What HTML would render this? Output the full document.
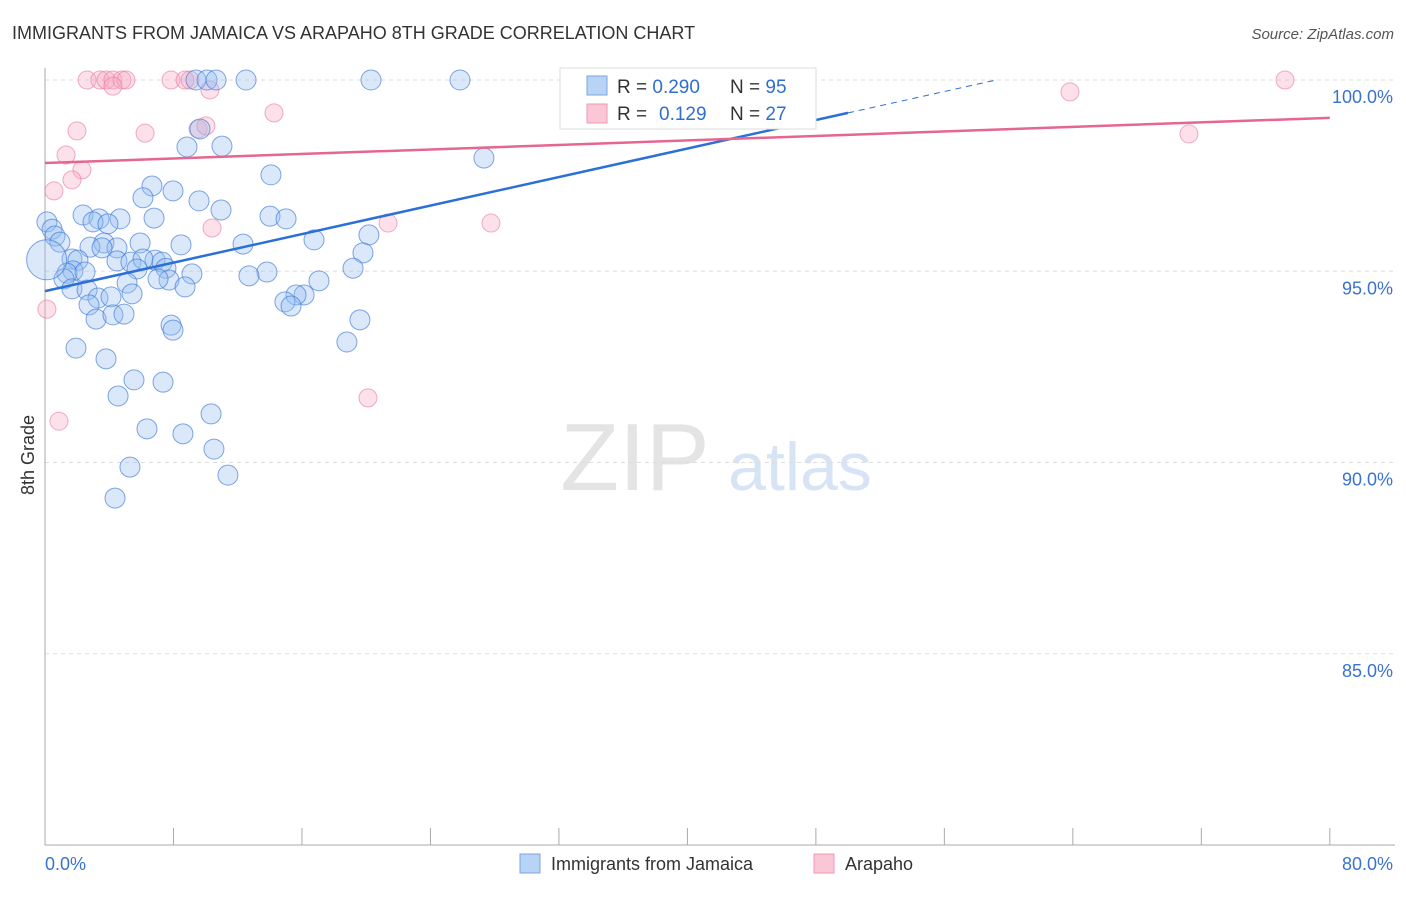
<!DOCTYPE html>
<html><head><meta charset="utf-8"><style>
body{margin:0;background:#fff;font-family:"Liberation Sans",sans-serif}
svg text{font-family:"Liberation Sans",sans-serif}
</style></head><body>
<svg id="c" width="1406" height="892">
<text x="12" y="39" font-size="18" fill="#333">IMMIGRANTS FROM JAMAICA VS ARAPAHO 8TH GRADE CORRELATION CHART</text>
<text x="1394" y="39" font-size="15" fill="#555" font-style="italic" text-anchor="end">Source: ZipAtlas.com</text>
<text x="635" y="490" font-size="96" fill="#e4e4e4" font-family="Liberation Serif,serif" text-anchor="middle">ZIP</text>
<text x="800" y="490" font-size="68" fill="#d6e4f5" text-anchor="middle">atlas</text>
<text transform="translate(34,455) rotate(-90)" font-size="18" fill="#333" text-anchor="middle">8th Grade</text>
<g id="grid"></g><g id="pts"></g><g id="lines"></g>
<g>
<rect x="560" y="68" width="256" height="61" fill="#fff" stroke="#ddd"/>
<rect x="587" y="76" width="20" height="19" fill="#b8d3f5" stroke="#7aa7e0"/>
<rect x="587" y="104" width="20" height="19" fill="#fbc6d6" stroke="#ef9ab5"/>
<text x="617" y="93" font-size="19" fill="#333">R = <tspan fill="#2f6fcf">0.290</tspan><tspan x="730">N = </tspan><tspan fill="#2f6fcf">95</tspan></text>
<text x="617" y="120" font-size="19" fill="#333">R = <tspan x="659" fill="#2f6fcf">0.129</tspan><tspan x="730">N = </tspan><tspan fill="#2f6fcf">27</tspan></text>
</g>
<g>
<rect x="520" y="854" width="20" height="19" fill="#b8d3f5" stroke="#7aa7e0"/>
<text x="551" y="870" font-size="18" fill="#333">Immigrants from Jamaica</text>
<rect x="814" y="854" width="20" height="19" fill="#fbc6d6" stroke="#ef9ab5"/>
<text x="845" y="870" font-size="18" fill="#333">Arapaho</text>
</g>
</svg>
<script>
const blueX=[9.40,10.09,10.65,12.52,20.30,25.84,42.65,9.65,8.84,11.02,14.07,27.33,6.66,7.97,6.10,9.59,10.96,2.37,3.36,4.67,2.99,3.92,6.79,14.01,15.01,0.12,0.44,0.62,0.93,20.17,16.75,12.33,8.47,5.92,3.67,2.80,4.48,19.80,3.55,1.68,2.05,4.48,5.35,6.85,6.10,7.29,7.53,5.73,1.74,1.37,2.49,19.18,13.82,12.70,9.15,7.72,7.04,1.18,1.68,2.62,5.11,8.72,17.06,3.30,4.11,5.42,2.74,16.13,15.63,14.94,15.32,3.18,4.23,4.92,7.85,7.97,19.61,18.80,1.93,3.80,5.54,7.35,4.55,10.34,6.35,8.59,10.52,5.29,11.39,4.36,0.1];
const blueY=[100,100,100,100,100,100,100,98.72,98.25,98.27,97.52,97.96,97.23,97.10,96.92,96.84,96.60,96.47,96.37,96.37,96.29,96.24,96.39,96.44,96.37,96.29,96.10,95.92,95.76,95.95,95.82,95.71,95.69,95.74,95.74,95.63,95.61,95.48,95.61,95.32,95.29,95.27,95.24,95.29,95.32,95.24,95.08,95.06,95.01,94.95,94.98,95.08,94.98,94.88,94.93,94.77,94.80,94.80,94.54,94.51,94.69,94.59,94.75,94.30,94.33,94.41,94.12,94.38,94.38,94.20,94.09,93.75,93.86,93.88,93.59,93.46,93.73,93.15,92.99,92.71,92.16,92.10,91.74,91.27,90.88,90.75,90.35,89.88,89.67,89.07,95.3];
const pinkX=[2.62,3.42,3.80,4.23,4.79,5.04,7.85,8.72,9.03,4.23,10.27,77.21,63.82,14.26,1.99,6.23,9.53,10.02,1.31,2.30,1.68,0.56,10.40,21.36,27.77,71.23,0.12,20.11,0.87];
const pinkY=[100,100,100,100,100,100,100,100,100,99.84,99.74,100,99.69,99.14,98.67,98.61,98.72,98.80,98.04,97.65,97.39,97.10,96.13,96.26,96.26,98.59,94.01,91.69,91.08];
const blueTrend=[94.48,99.14];const blueTrendX=[0,50];
const pinkTrend=[97.83,99.01];const pinkTrendX=[0,80];
const yTicks=[100,95,90,85];const yTickLabels=["100.0%","95.0%","90.0%","85.0%"];
const xTicks=[0,8,16,24,32,40,48,56,64,72,80];
const NS="http://www.w3.org/2000/svg";
const sx=v=>45+v*16.06, sy=v=>80+(100-v)*38.25;
function mk(t,a,p){const e=document.createElementNS(NS,t);for(const k in a)e.setAttribute(k,a[k]);p.appendChild(e);return e;}
const g=document.getElementById('grid');
yTicks.forEach((t,i)=>{const l=mk('line',{x1:45,x2:1395,y1:sy(t),y2:sy(t),stroke:'#ddd','stroke-dasharray':'4,4'},g);


const tx=mk('text',{x:1393,y:sy(t)+23,'font-size':18,fill:'#3a73cf','text-anchor':'end'},g);tx.textContent=yTickLabels[i];

});
const ax=mk('line',{x1:45,x2:45,y1:68,y2:845,stroke:'#aaa'},g);


const bx=mk('line',{x1:45,x2:1395,y1:845,y2:845,stroke:'#aaa'},g);


xTicks.forEach(t=>{const l=mk('line',{x1:sx(t),x2:sx(t),y1:828,y2:845,stroke:'#aaa'},g);

});
const x0=mk('text',{x:45,y:870,'font-size':18,fill:'#3a73cf'},g);x0.textContent='0.0%';


const x1=mk('text',{x:1393,y:870,'font-size':18,fill:'#3a73cf','text-anchor':'end'},g);x1.textContent='80.0%';


const P=document.getElementById('pts');
pinkX.forEach((x,i)=>{const c=mk('circle',{cx:sx(x),cy:sy(pinkY[i]),r:9,fill:'rgba(247,170,195,0.35)',stroke:'rgba(232,120,155,0.6)'},P);

});
blueX.forEach((x,i)=>{const c=mk('circle',{cx:sx(x),cy:sy(blueY[i]),r:i==blueX.length-1?20:10,fill:'rgba(150,190,240,0.35)',stroke:'rgba(60,120,215,0.65)'},P);

});
const L=document.getElementById('lines');
const slope=(blueTrend[1]-blueTrend[0])/(blueTrendX[1]-blueTrendX[0]);
const bl=mk('line',{x1:sx(blueTrendX[0]),y1:sy(blueTrend[0]),x2:sx(blueTrendX[1]),y2:sy(blueTrend[1]),stroke:'#2c6fd6','stroke-width':2.5},L);


const xe=blueTrendX[0]+(100-blueTrend[0])/slope;
const bd=mk('line',{x1:sx(blueTrendX[1]),y1:sy(blueTrend[1]),x2:sx(xe),y2:sy(100),stroke:'#2c6fd6','stroke-width':1,'stroke-dasharray':'6,5'},L);


const pl=mk('line',{x1:sx(pinkTrendX[0]),y1:sy(pinkTrend[0]),x2:sx(pinkTrendX[1]),y2:sy(pinkTrend[1]),stroke:'#e5668f','stroke-width':2.5},L);


</script>
</body></html>
